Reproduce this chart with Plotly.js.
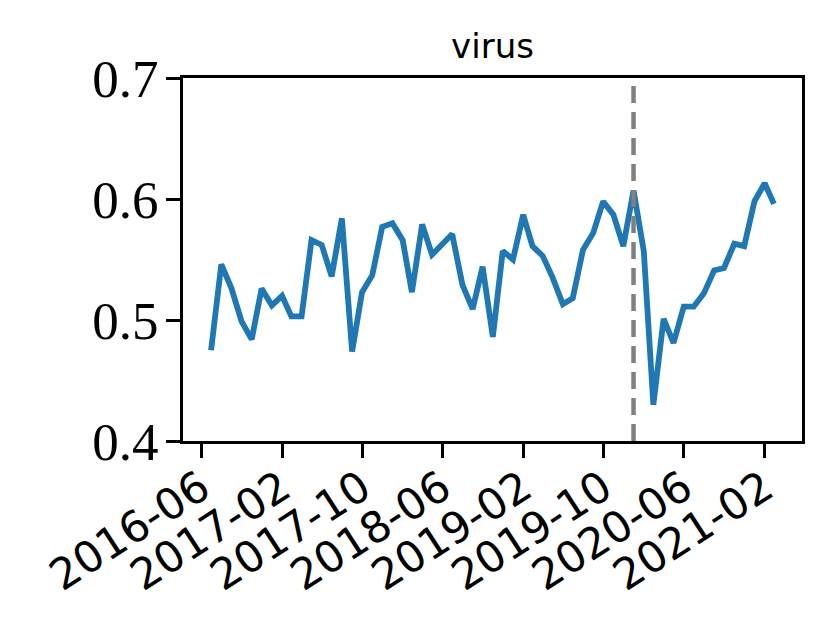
<!DOCTYPE html>
<html>
<head>
<meta charset="utf-8">
<script src="https://cdn.plot.ly/plotly-3.0.1.min.js"></script>
<style>
  html, body { margin: 0; padding: 0; background: #fff; }
  #chart { width: 830px; height: 624px; }
</style>
</head>
<body>
<div id="chart"></div>
<script>
const months = [
  '2016-07-01','2016-08-01','2016-09-01','2016-10-01','2016-11-01','2016-12-01',
  '2017-01-01','2017-02-01','2017-03-01','2017-04-01','2017-05-01','2017-06-01',
  '2017-07-01','2017-08-01','2017-09-01','2017-10-01','2017-11-01','2017-12-01',
  '2018-01-01','2018-02-01','2018-03-01','2018-04-01','2018-05-01','2018-06-01',
  '2018-07-01','2018-08-01','2018-09-01','2018-10-01','2018-11-01','2018-12-01',
  '2019-01-01','2019-02-01','2019-03-01','2019-04-01','2019-05-01','2019-06-01',
  '2019-07-01','2019-08-01','2019-09-01','2019-10-01','2019-11-01','2019-12-01',
  '2020-01-01','2020-02-01','2020-03-01','2020-04-01','2020-05-01','2020-06-01',
  '2020-07-01','2020-08-01','2020-09-01','2020-10-01','2020-11-01','2020-12-01',
  '2021-01-01','2021-02-01','2021-03-01'
];
const virusValues = [
  0.475, 0.546, 0.526, 0.499, 0.484, 0.526,
  0.512, 0.520, 0.503, 0.503, 0.566, 0.562,
  0.536, 0.584, 0.474, 0.523, 0.537, 0.577,
  0.580, 0.566, 0.523, 0.579, 0.554, 0.562,
  0.571, 0.529, 0.509, 0.544, 0.486, 0.557,
  0.550, 0.587, 0.561, 0.553, 0.535, 0.513,
  0.518, 0.558, 0.572, 0.598, 0.587, 0.561,
  0.607, 0.557, 0.430, 0.501, 0.481, 0.511,
  0.511, 0.522, 0.541, 0.543, 0.563, 0.561,
  0.598, 0.613, 0.596
];
const xTickVals = ['2016-06-01','2017-02-01','2017-10-01','2018-06-01','2019-02-01','2019-10-01','2020-06-01','2021-02-01'];
const xTickLabels = ['2016-06','2017-02','2017-10','2018-06','2019-02','2019-10','2020-06','2021-02'];
const yTickVals = [0.4, 0.5, 0.6, 0.7];
const yTickLabels = ['0.4', '0.5', '0.6', '0.7'];
const eventDate = '2020-01-01';
const chartTitle = 'virus';

const trace = {
  x: months,
  y: virusValues,
  type: 'scatter',
  mode: 'lines',
  line: { color: '#1f77b4', width: 5.8 },
  hoverinfo: 'skip'
};

const layout = {
  width: 830,
  height: 624,
  margin: { l: 183, r: 28, t: 78, b: 183 },
  paper_bgcolor: '#ffffff',
  plot_bgcolor: '#ffffff',
  showlegend: false,
  title: {
    text: chartTitle,
    font: { family: 'DejaVu Sans', size: 34, color: '#000000' },
    xref: 'paper', x: 0.5, xanchor: 'center',
    yref: 'container', y: 1 - 46 / 624, yanchor: 'middle'
  },
  xaxis: {
    type: 'date',
    range: ['2016-04-07', '2021-05-25'],
    tickmode: 'array',
    tickvals: xTickVals,
    ticktext: xTickLabels,
    tickangle: -33,
    ticks: 'outside',
    ticklen: 14,
    tickwidth: 3,
    tickcolor: '#000000',
    ticklabelstandoff: -12,
    tickfont: { family: 'DejaVu Sans', size: 43, color: '#000000' },
    showline: true, mirror: true, linecolor: '#000000', linewidth: 3,
    showgrid: false, zeroline: false
  },
  yaxis: {
    range: [0.4, 0.7],
    tickmode: 'array',
    tickvals: yTickVals,
    ticktext: yTickLabels,
    ticks: 'outside',
    ticklen: 14,
    tickwidth: 3,
    tickcolor: '#000000',
    ticklabelstandoff: -3,
    tickfont: { family: 'Liberation Serif', size: 53, color: '#000000' },
    showline: true, mirror: true, linecolor: '#000000', linewidth: 3,
    showgrid: false, zeroline: false
  },
  shapes: [{
    type: 'line',
    xref: 'x', yref: 'paper',
    x0: eventDate, x1: eventDate, y0: 0, y1: 1,
    line: { color: '#808080', width: 4.5, dash: '17px,9px' },
    layer: 'above'
  }]
};

Plotly.newPlot('chart', [trace], layout, { staticPlot: true, displayModeBar: false });
</script>
</body>
</html>
